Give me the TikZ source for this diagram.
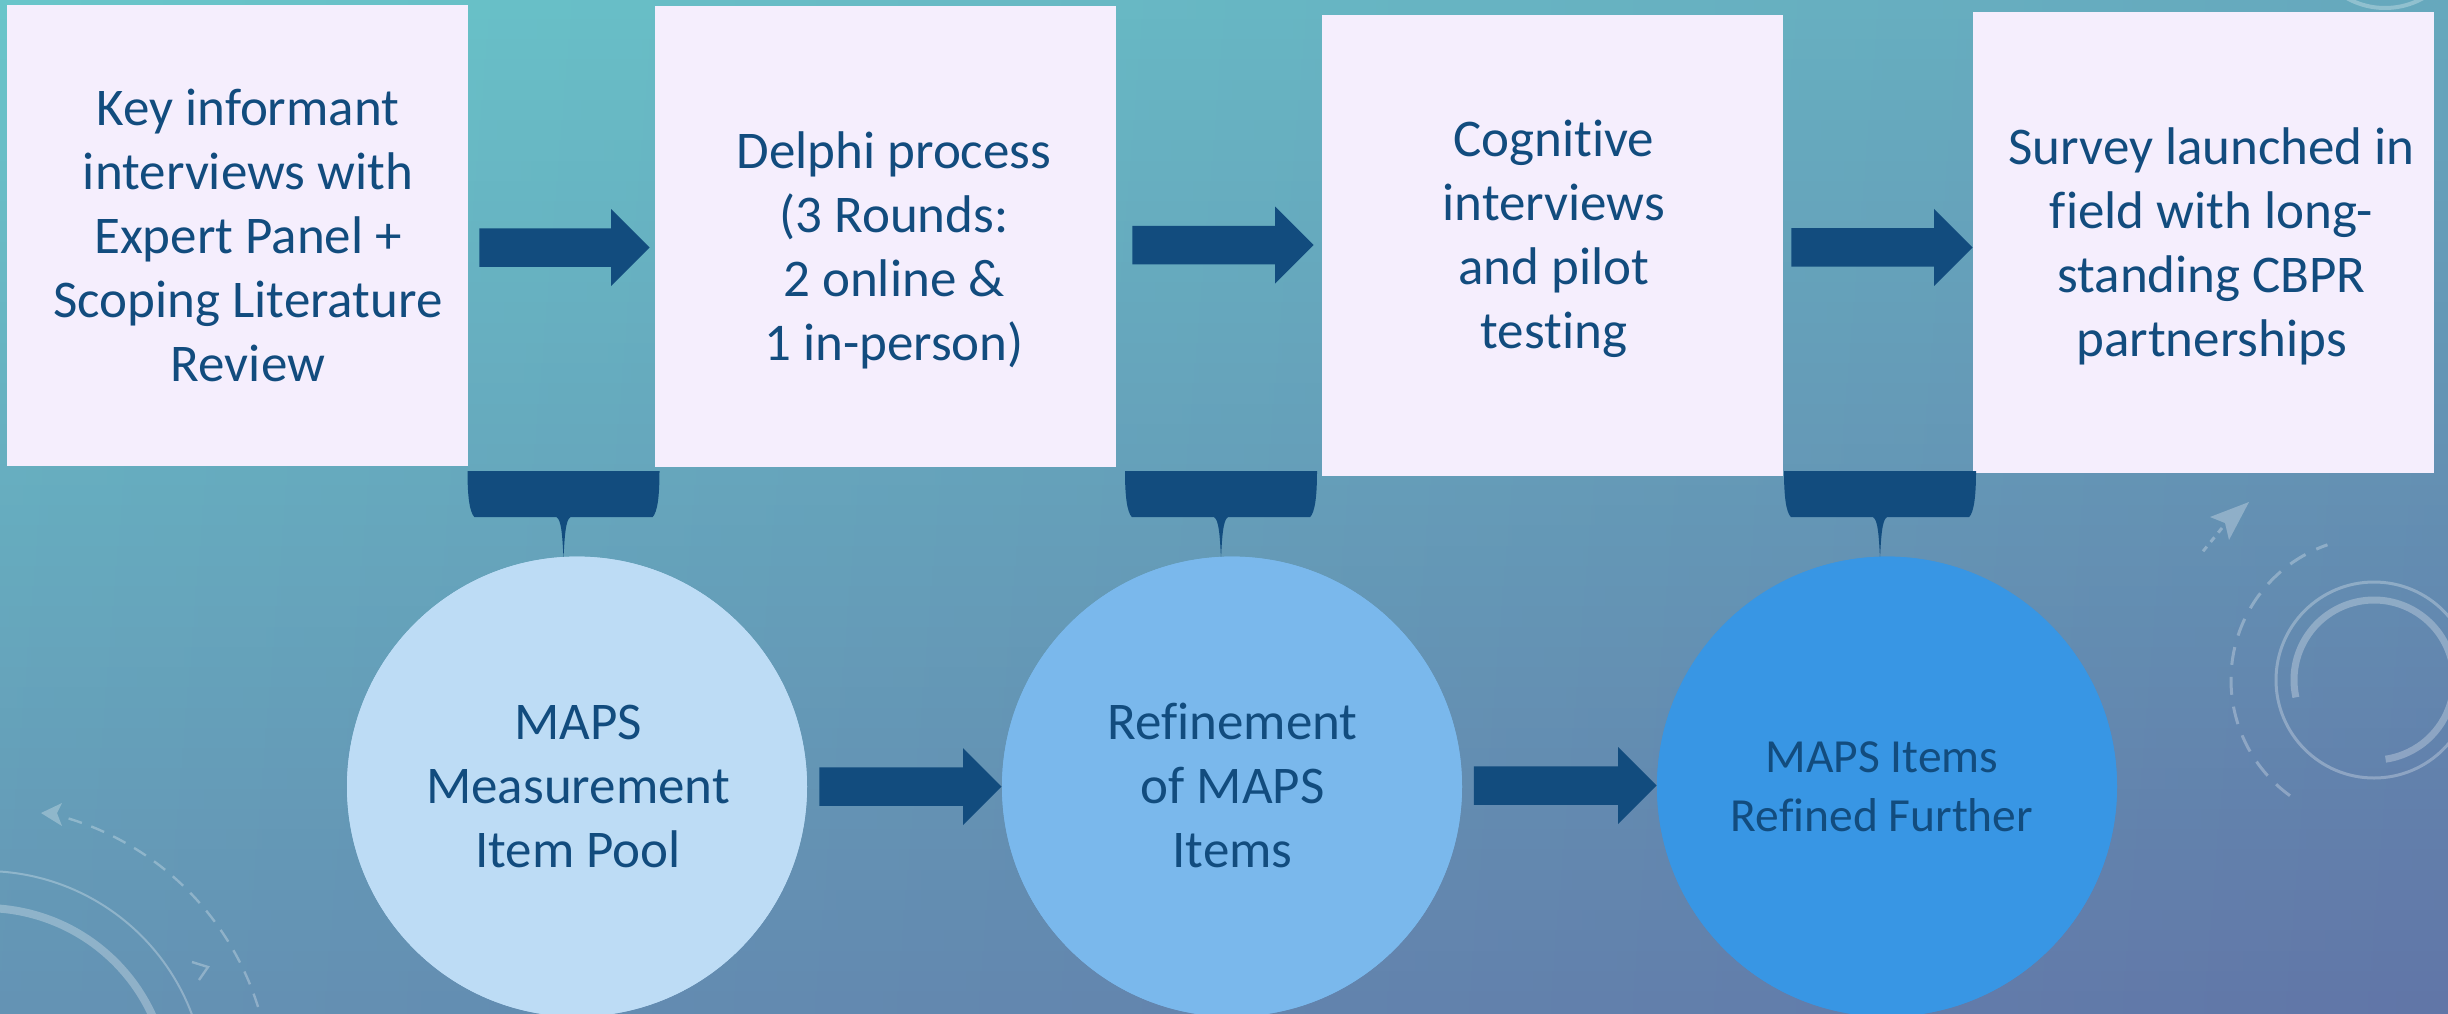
\documentclass[tikz,border=0pt]{standalone}
\usepackage{fontspec}
\setmainfont{Carlito}[Ligatures=NoCommon]
\usetikzlibrary{calc}

\definecolor{bgA}{RGB}{105,198,202}
\definecolor{bgB}{RGB}{97,117,167}
\definecolor{navy}{RGB}{18,76,126}
\definecolor{boxfill}{RGB}{245,238,253}
\definecolor{poolfill}{RGB}{189,220,245}
\definecolor{refinefill}{RGB}{122,184,236}
\definecolor{furtherfill}{RGB}{56,150,228}

\tikzset{
  stepbox/.style={rectangle, fill=boxfill, minimum width=230.5pt, minimum height=230.5pt, inner sep=0pt},
  stepcircle/.style={circle, minimum size=230pt, inner sep=0pt},
  % anchored at the baseline of the last line
  steptext/.style={text=navy, align=center, inner sep=0pt, anchor=base,
    font=\fontsize{26.5pt}{32pt}\selectfont},
  smalltext/.style={steptext, font=\fontsize{23.75pt}{29.6pt}\selectfont},
  deco/.style={draw=white, opacity=0.28},
  % thick block arrow from the start point to the target's x, kept horizontal
  blockarrow/.style={fill=navy, to path={let \p1=(\tikztostart), \p2=(\tikztotarget) in
    (\x1,\y1-9.625pt) -- (\x2-19.25pt,\y1-9.625pt) -- (\x2-19.25pt,\y1-19.25pt)
    -- (\x2,\y1) -- (\x2-19.25pt,\y1+19.25pt) -- (\x2-19.25pt,\y1+9.625pt)
    -- (\x1,\y1+9.625pt) -- cycle}},
  % flat bracket hanging under the boxes, its stem pointing at the target
  bracket/.style={fill=navy, to path={let \p1=(\tikztostart), \p2=(\tikztotarget) in
    (\x1-48pt,\y2+43.5pt) -- (\x1+48pt,\y2+43.5pt)
    .. controls (\x1+48pt,\y2+31pt) and (\x1+47pt,\y2+23pt) .. (\x1+44.5pt,\y2+20.5pt)
    -- (\x1+3.5pt,\y2+20.5pt)
    .. controls (\x1+1pt,\y2+19.5pt) and (\x1+0.5pt,\y2+10pt) .. (\x1,\y2)
    .. controls (\x1-0.5pt,\y2+10pt) and (\x1-1pt,\y2+19.5pt) .. (\x1-3.5pt,\y2+20.5pt)
    -- (\x1-44.5pt,\y2+20.5pt)
    .. controls (\x1-47pt,\y2+23pt) and (\x1-48pt,\y2+31pt) .. (\x1-48pt,\y2+43.5pt) -- cycle}}
}

\begin{document}
\begin{tikzpicture}[x=0.5pt,y=-0.5pt]
\useasboundingbox (0,0) rectangle (2448,1013);

% background: diagonal gradient built from horizontal strips
\foreach \i in {0,...,49}{
  \pgfmathsetmacro\fl{63*(\i+0.5)/50}
  \pgfmathsetmacro\fr{37+63*(\i+0.5)/50}
  \pgfmathsetmacro\ya{\i*20.26-1}
  \pgfmathsetmacro\yb{\i*20.26+21.26}
  \shade[left color=bgB!\fl!bgA, right color=bgB!\fr!bgA]
    (0,\ya) rectangle (2448,\yb);
}

% faint ornaments of the backdrop
\draw[deco, line width=1pt] (-15,1092) ++(250:221) arc[start angle=250, end angle=360, radius=221];
\draw[deco, line width=4pt] (-15,1092) ++(250:184) arc[start angle=250, end angle=360, radius=184];
\draw[deco, line width=1.2pt, dash pattern=on 7pt off 5pt] (-15,1092) ++(287:286) arc[start angle=287, end angle=350, radius=286];
\fill[white, opacity=0.28] (41,813) -- (62,803) -- (57,813) -- (62,826) -- cycle;
\draw[deco, line width=1.2pt] (192,962) -- (208,967) -- (199,980);

\draw[deco, line width=1.5pt] (2374,680) circle[radius=98];
\draw[deco, line width=3.5pt] (2374,680) ++(167.5:80) arc[start angle=167.5, end angle=441.7, radius=80];
\draw[deco, line width=1.5pt, dash pattern=on 9pt off 6pt] (2374,680) ++(126:143) arc[start angle=126, end angle=251, radius=143];
\fill[white, opacity=0.28] (2249,502) -- (2229,540) -- (2225,523) -- (2210,517) -- cycle;
\draw[deco, line width=1.5pt, dash pattern=on 3pt off 3pt] (2222,528) -- (2200,555);
\draw[deco, line width=2pt] (2385,-70) circle[radius=78];

% process steps
\node[stepbox] (b1) at (237.5,235.5) {};
\node[stepbox] (b2) at (885.5,236.5) {};
\node[stepbox] (b3) at (1552.5,245.4) {};
\node[stepbox] (b4) at (2203.5,242.4) {};

% item pool stages
\node[stepcircle, fill=poolfill] (c1) at (577,786.6) {};
\node[stepcircle, fill=refinefill] (c2) at (1232,786.6) {};
\node[stepcircle, fill=furtherfill] (c3) at (1887,786.6) {};

% brackets linking each step pair to its stage
\path[bracket] ($(b1.south east)!0.5!(b2.south west)+(2,0)$) to ($(c1.north)+(0,2)$);
\path[bracket] ($(b2.south east)!0.5!(b3.south west)+(2,0)$) to ($(c2.north)+(0,2)$);
\path[bracket] ($(b3.south east)!0.5!(b4.south west)+(2,0)$) to ($(c3.north)+(0,2)$);
\node[stepcircle, fill=poolfill] at (c1) {};
\node[stepcircle, fill=refinefill] at (c2) {};
\node[stepcircle, fill=furtherfill] at (c3) {};

% flow arrows
\path[blockarrow] ($(b1.east)+(11,12)$) to ($(b2.west)+(-5,0)$);
\path[blockarrow] ($(b2.east)+(16,8.5)$) to ($(b3.west)+(-8,0)$);
\path[blockarrow] ($(b3.east)+(8,2)$) to (b4.west);
\path[blockarrow] ($(c1.east)+(12,0)$) to (c2.west);
\path[blockarrow] ($(c2.east)+(11.5,-1)$) to (c3.west);

% labels
\node[steptext] (t1) at (248,381) {Key informant\\interviews with\\Expert Panel +\\Scoping Literature\\Review};
\node[steptext] (t2) at (894,360) {Delphi process\\(3 Rounds:\\2 online \&\\1 in-person)};
\node[steptext] (t3) at (1553.8,348.3) {Cognitive\\interviews\\and pilot\\testing};
\node[steptext] (t4) at (2211.6,356.7) {Survey launched in\\field with long-\\standing CBPR\\partnerships};
\node[steptext] (t5) at (578,867.7) {MAPS\\Measurement\\Item Pool};
\node[steptext] (t6) at (1232.6,867.6) {Refinement\\of MAPS\\Items};
\node[smalltext] (t7) at (1882,831.3) {MAPS Items\\Refined Further};
\end{tikzpicture}
\end{document}
